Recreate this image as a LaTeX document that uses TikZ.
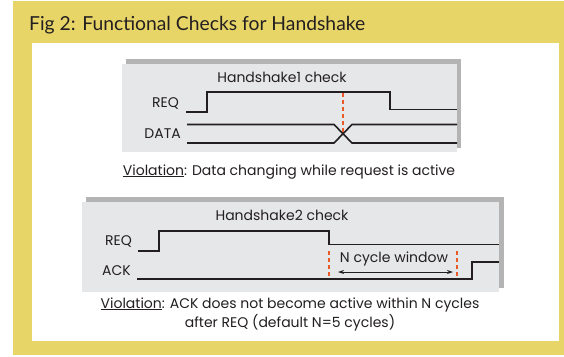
\documentclass[tikz,border=0pt]{standalone}
\usepackage{fontspec}
\setmainfont{Poppins}
\newfontfamily\headfont{Lato}
\usetikzlibrary{arrows.meta}
\definecolor{frameyellow}{RGB}{232,213,104}
\definecolor{panelgray}{RGB}{230,231,232}
\definecolor{shadowgray}{RGB}{180,180,180}
\definecolor{markorange}{RGB}{232,90,40}
\definecolor{inkdark}{RGB}{35,31,32}
\begin{document}
\begin{tikzpicture}[x=1pt,y=-1pt,
  wave/.style={line width=1.6pt, draw=inkdark, line join=miter},
  marker/.style={draw=markorange, line width=1.8pt, dash pattern=on 4pt off 3pt},
  siglabel/.style={anchor=base east, inner sep=0pt, text=inkdark, font=\fontsize{14}{16}\selectfont},
  bodytext/.style={anchor=base, inner sep=0pt, text=inkdark, font=\fontsize{14}{16}\selectfont},
  panel/.style={fill=panelgray},
  panelshadow/.style={fill=shadowgray},
  span/.style={draw=inkdark, line width=0.9pt, {Stealth[length=6pt,width=4pt]}-{Stealth[length=6pt,width=4pt]}}
]
\useasboundingbox (0,0) rectangle (564,356);

% frame and title bar
\fill[frameyellow] (13,1) rectangle (564,355);
\fill[white] (32,43) rectangle (559,341);
\node[anchor=base west, inner sep=0pt, text=inkdark, font=\headfont\fontsize{19.3}{22}\selectfont] (title) at (29,30)
  {Fig 2: Functional Checks for Handshake};

% ---- first check: data stable while REQ high
\fill[panelshadow] (126,59) rectangle (461,148);
\fill[panel] (122,64) rectangle (457,152);
\node[bodytext] (hs1) at (282,82) {Handshake1 check};
\node[siglabel] (req1) at (179,107) {REQ};
\node[siglabel] (data1) at (181,138) {DATA};
\draw[wave] (186,112) -- (207,112) -- (207,92) -- (390,92) -- (390,109.5) -- (457,109.5);
\draw[wave] (187,124.5) -- (334,124.5) -- (352,143) -- (457,143);
\draw[wave] (187,143) -- (334,143) -- (352,124.5) -- (457,124.5);
\coordinate (mk1top) at (343,93);
\coordinate (mk1bot) at (343,134);
\draw[marker] (mk1top) -- (mk1bot);
\node[bodytext] (viol1) at (289,175) {\underline{Violation}: Data changing while request is active};

% ---- second check: ACK within N cycles
\fill[panelshadow] (86,197) rectangle (504,288);
\fill[panel] (82,202) rectangle (499,292);
\node[bodytext] (hs2) at (282,220) {Handshake2 check};
\node[siglabel] (req2) at (132,245) {REQ};
\node[siglabel] (ack2) at (131,275) {ACK};
\draw[wave] (138,251) -- (159,251) -- (159,231) -- (329,231) -- (329,244.5) -- (499,244.5);
\draw[wave] (137,279) -- (472,279) -- (472,262) -- (499,262);
\coordinate (mk2a) at (329,251);
\coordinate (mk2ab) at (329,277);
\coordinate (mk2b) at (457,251);
\coordinate (mk2bb) at (457,277);
\draw[marker] (mk2a) -- (mk2ab);
\draw[marker] (mk2b) -- (mk2bb);
\coordinate (winL) at (338,272);
\coordinate (winR) at (453,272);
\draw[span] (winL) -- (winR);
\node[bodytext] (win) at (394,262) {N cycle window};
\node[bodytext] (viol2) at (290,308) {\underline{Violation}: ACK does not become active within N cycles};
\node[bodytext] (viol2b) at (290,327) {after REQ (default N=5 cycles)};
\end{tikzpicture}
\end{document}
